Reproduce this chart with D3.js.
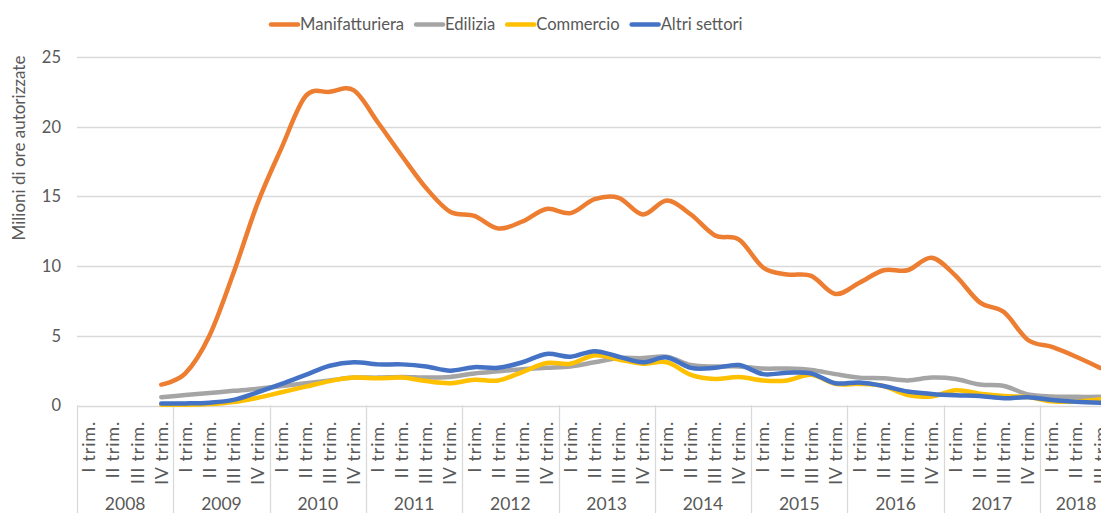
<!DOCTYPE html>
<html>
<head>
<meta charset="utf-8">
<script src="https://cdn.jsdelivr.net/npm/d3@7"></script>
<style>
  body { margin: 0; background: #fff; }
  #chart text { font-family: Lato, "Noto Sans", sans-serif; fill: #595959; }
</style>
</head>
<body>
<div id="chart"></div>
<script>
//chart data
var years = [2008, 2009, 2010, 2011, 2012, 2013, 2014, 2015, 2016, 2017, 2018];
var quarterLabels = ["I trim.", "II trim.", "III trim.", "IV trim."];
var quartersInLastYear = 3;
var yTicks = [0, 5, 10, 15, 20, 25];
var seriesNames = ["Manifatturiera", "Edilizia", "Commercio", "Altri settori"];
var seriesColors = ["#ED7D31", "#A5A5A5", "#FFC000", "#4472C4"];

//values in millions of hours, 2008 I trim. .. 2018 III trim.
var manifatturiera = [null, null, null, 1.5,
  2.3, 5.0, 9.5, 14.5,
  18.5, 22.2, 22.5, 22.6,
  20.3, 17.9, 15.6, 13.9,
  13.6, 12.7, 13.2, 14.1,
  13.8, 14.8, 14.9, 13.7,
  14.7, 13.7, 12.2, 11.9,
  9.9, 9.4, 9.3, 8.0,
  8.8, 9.7, 9.7, 10.6,
  9.3, 7.4, 6.7, 4.7,
  4.2, 3.5, 2.7];
var edilizia = [null, null, null, 0.6,
  0.75, 0.9, 1.05, 1.2,
  1.4, 1.6, 1.8, 2.0,
  2.0, 2.05, 2.0, 2.05,
  2.3, 2.45, 2.6, 2.7,
  2.8, 3.1, 3.4, 3.4,
  3.5, 2.9, 2.8, 2.8,
  2.65, 2.65, 2.55, 2.25,
  2.0, 1.95, 1.8, 2.0,
  1.9, 1.5, 1.4, 0.8,
  0.65, 0.62, 0.62];
var commercio = [null, null, null, 0.05,
  0.05, 0.1, 0.25, 0.55,
  0.95, 1.35, 1.75, 2.0,
  1.95, 2.0, 1.75, 1.6,
  1.85, 1.8, 2.4, 3.05,
  3.0, 3.6, 3.3, 3.0,
  3.1, 2.2, 1.9, 2.05,
  1.8, 1.8, 2.2, 1.55,
  1.55, 1.4, 0.75, 0.65,
  1.1, 0.85, 0.68, 0.6,
  0.3, 0.28, 0.45];
var altriSettori = [null, null, null, 0.15,
  0.15, 0.2, 0.4, 0.95,
  1.55, 2.2, 2.85, 3.1,
  2.95, 2.95, 2.8, 2.5,
  2.75, 2.7, 3.1, 3.7,
  3.5, 3.9, 3.5, 3.1,
  3.45, 2.7, 2.7, 2.9,
  2.25, 2.35, 2.3, 1.6,
  1.65, 1.4, 1.0, 0.83,
  0.73, 0.68, 0.52, 0.59,
  0.4, 0.27, 0.2];

//constructor
function LineChart(_parent) {
  var vis = this;
  vis.parent = _parent;
  vis.init();
}

//function init
LineChart.prototype.init = function() {
  var vis = this;
  vis.width = 1101;
  vis.height = 513;
  vis.left = 77;
  vis.top = 57;
  vis.bottom = 405.5;
  vis.step = 24.075;

  //build the list of periods (year + quarter)
  vis.periods = [];
  years.forEach(function(y, yi) {
    var n = (yi == years.length - 1) ? quartersInLastYear : 4;
    for (var q = 0; q < n; q++) {
      vis.periods.push({ year: y, q: q, label: quarterLabels[q], key: y + "-" + q });
    }
  });

  vis.svg = d3.select(vis.parent).append("svg")
    .attr("width", vis.width)
    .attr("height", vis.height);

  vis.x = d3.scaleBand()
    .domain(vis.periods.map(function(d) { return d.key; }))
    .range([vis.left, vis.left + vis.periods.length * vis.step])
    .padding(0);

  vis.y = d3.scaleLinear()
    .domain([0, 25])
    .range([vis.bottom, vis.top]);

  vis.series = [manifatturiera, edilizia, commercio, altriSettori].map(function(vals, i) {
    return { name: seriesNames[i], color: seriesColors[i], values: vals };
  });

  vis.draw();
};

//function draw
LineChart.prototype.draw = function() {
  var vis = this;
  var xRight = vis.x.range()[1];

  //gridlines
  vis.svg.append("g")
    .selectAll("line")
    .data(yTicks)
    .enter().append("line")
    .attr("x1", vis.left)
    .attr("x2", xRight)
    .attr("y1", function(d) { return Math.round(vis.y(d)) + 0.5; })
    .attr("y2", function(d) { return Math.round(vis.y(d)) + 0.5; })
    .style("stroke", "#D9D9D9")
    .style("stroke-width", 1.3);

  //y tick labels
  vis.svg.append("g")
    .selectAll("text")
    .data(yTicks)
    .enter().append("text")
    .text(function(d) { return d; })
    .attr("x", 61)
    .attr("y", function(d) { return vis.y(d); })
    .attr("dy", "0.36em")
    .style("text-anchor", "end")
    .style("font-size", "16.5px");

  //y axis title
  vis.svg.append("text")
    .text("Milioni di ore autorizzate")
    .attr("transform", "translate(19,148) rotate(-90)")
    .attr("dy", "0.35em")
    .style("text-anchor", "middle")
    .style("font-size", "17px");

  //year separators
  var yearStarts = years.map(function(y) { return vis.x(y + "-0"); });
  yearStarts.push(xRight);
  vis.svg.append("g")
    .selectAll("line")
    .data(yearStarts)
    .enter().append("line")
    .attr("x1", function(d) { return Math.round(d) + 0.5; })
    .attr("x2", function(d) { return Math.round(d) + 0.5; })
    .attr("y1", vis.bottom)
    .attr("y2", vis.height)
    .style("stroke", "#D9D9D9")
    .style("stroke-width", 1.3);

  //quarter labels
  vis.svg.append("g")
    .selectAll("text")
    .data(vis.periods)
    .enter().append("text")
    .text(function(d) { return d.label; })
    .attr("transform", function(d) {
      return "translate(" + (vis.x(d.key) + vis.x.bandwidth() / 2) + ",421) rotate(-90)";
    })
    .attr("dy", "0.35em")
    .style("text-anchor", "end")
    .style("letter-spacing", "0.8px")
    .style("font-size", "18px");

  //year labels
  vis.svg.append("g")
    .selectAll("text")
    .data(years)
    .enter().append("text")
    .text(function(d) { return d; })
    .attr("x", function(d, i) {
      var n = (i == years.length - 1) ? quartersInLastYear : 4;
      return vis.x(d + "-0") + n * vis.x.bandwidth() / 2;
    })
    .attr("y", 504)
    .attr("dy", "0.36em")
    .style("text-anchor", "middle")
    .style("font-size", "17.5px");

  //lines
  var line = d3.line()
    .defined(function(d) { return d.v != null; })
    .x(function(d) { return vis.x(d.key) + vis.x.bandwidth() / 2; })
    .y(function(d) { return vis.y(d.v); })
    .curve(d3.curveCatmullRom.alpha(0));

  vis.svg.append("g")
    .selectAll("path")
    .data(vis.series)
    .enter().append("path")
    .attr("d", function(s) {
      return line(vis.periods.map(function(p, i) { return { key: p.key, v: s.values[i] }; }));
    })
    .style("fill", "none")
    .style("stroke", function(s) { return s.color; })
    .style("stroke-width", 4.5)
    .style("stroke-linecap", "round")
    .style("stroke-linejoin", "round");

  //legend
  var legend = vis.svg.append("g");
  var lx = 271;
  vis.series.forEach(function(s) {
    legend.append("line")
      .attr("x1", lx)
      .attr("x2", lx + 27)
      .attr("y1", 24.5)
      .attr("y2", 24.5)
      .style("stroke", s.color)
      .style("stroke-width", 4.5)
      .style("stroke-linecap", "round");
    var t = legend.append("text")
      .text(s.name)
      .attr("x", lx + 29)
      .attr("y", 24.5)
      .attr("dy", "0.36em")
      .style("font-size", "16.6px");
    lx += 29 + t.node().getComputedTextLength() + 12;
  });
};

new LineChart("#chart");
</script>
</body>
</html>
